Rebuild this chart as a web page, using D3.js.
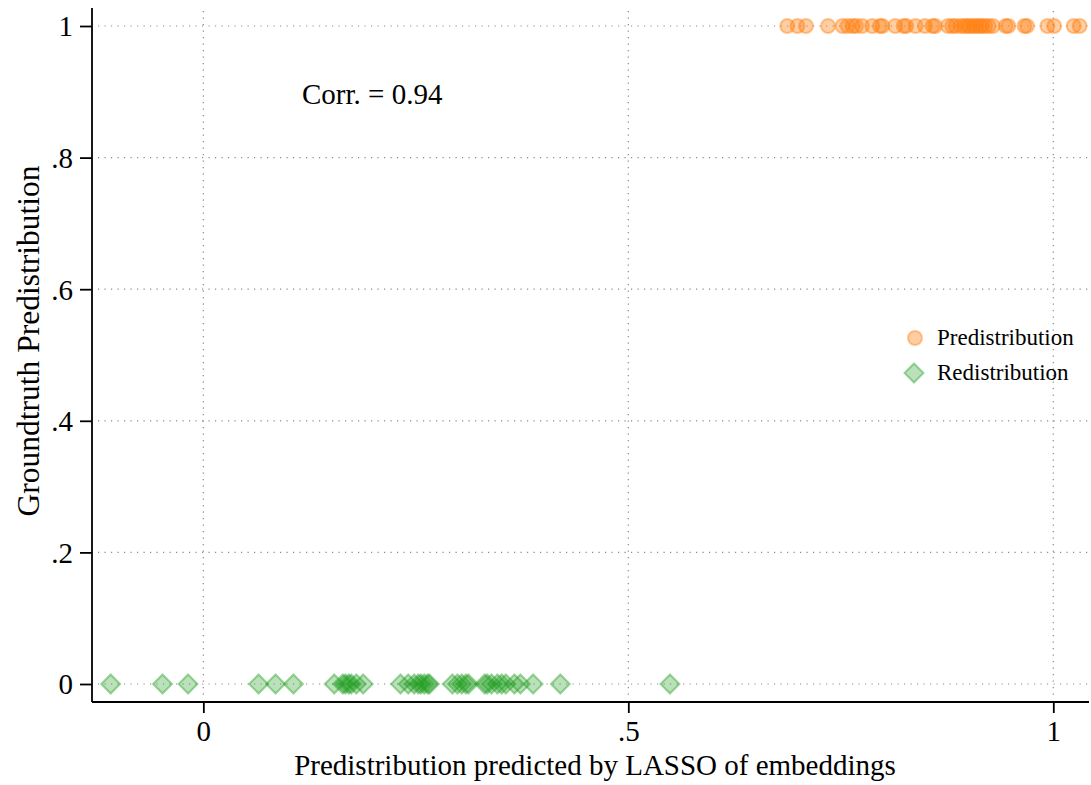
<!DOCTYPE html>
<html>
<head>
<meta charset="utf-8">
<script src="https://cdn.jsdelivr.net/npm/d3@7"></script>
<style>
  html, body { margin: 0; padding: 0; background: #fff; }
  svg text { font-family: "Liberation Serif", "Times New Roman", serif; fill: #000; }
</style>
</head>
<body>
<svg id="chart" width="1091" height="785"></svg>
<script>
// Predicted predistribution score (LASSO on embeddings) for speeches labelled Predistribution (truth = 1)
const predistributionX = [
  0.687, 0.699, 0.709, 0.735, 0.752, 0.758, 0.764, 0.768, 0.775, 0.787,
  0.796, 0.799, 0.814, 0.824, 0.827, 0.838, 0.849, 0.858, 0.861, 0.876,
  0.881, 0.885, 0.891, 0.895, 0.899, 0.902, 0.906, 0.909, 0.913, 0.916,
  0.920, 0.924, 0.929, 0.944, 0.947, 0.966, 0.969, 0.993, 1.001, 1.024, 1.031
];
// ... and for speeches labelled Redistribution (truth = 0)
const redistributionX = [
  -0.109, -0.048, -0.018, 0.065, 0.085, 0.106, 0.154, 0.164, 0.167, 0.171,
  0.174, 0.180, 0.188, 0.232, 0.241, 0.248, 0.253, 0.256, 0.260, 0.264,
  0.266, 0.293, 0.299, 0.304, 0.309, 0.312, 0.331, 0.334, 0.339, 0.346,
  0.351, 0.356, 0.366, 0.373, 0.388, 0.420, 0.549
];
const yTicks = [0, 0.2, 0.4, 0.6, 0.8, 1];
const yTickLabels = ["0", ".2", ".4", ".6", ".8", "1"];
const xTicks = [0, 0.5, 1];
const xTickLabels = ["0", ".5", "1"];
const seriesNames = ["Predistribution", "Redistribution"];
const corrLabel = "Corr. = 0.94";

const svg = d3.select("#chart");
const plotLeft = 92, plotRight = 1089, plotTop = 8, plotBottom = 702;

const x = d3.scaleLinear().domain([-0.131, 1.042]).range([plotLeft, plotRight]);
const y = d3.scaleLinear().domain([0, 1]).range([684, 26]);

const orange = "#ff7f0e";
const green = "#1a9a1a";

// dotted grid
const grid = svg.append("g");
grid.selectAll("line.h").data(yTicks).join("line")
  .attr("x1", plotLeft + 6).attr("x2", plotRight)
  .attr("y1", d => y(d)).attr("y2", d => y(d))
  .attr("stroke", "#8a8a8a").attr("stroke-width", 1.2)
  .attr("stroke-dasharray", "1.2,5.3");
grid.selectAll("line.v").data(xTicks).join("line")
  .attr("x1", d => x(d)).attr("x2", d => x(d))
  .attr("y1", plotTop + 3).attr("y2", plotBottom - 2)
  .attr("stroke", "#8a8a8a").attr("stroke-width", 1.2)
  .attr("stroke-dasharray", "1.2,5.3");

// axes
const yAxis = d3.axisLeft(y).tickValues(yTicks)
  .tickFormat((d, i) => yTickLabels[i]).tickSize(12).tickPadding(7);
const gy = svg.append("g").attr("transform", `translate(${plotLeft},0)`).call(yAxis);
gy.select(".domain").attr("d", `M0,${plotTop}V${plotBottom}`).attr("stroke", "#000").attr("stroke-width", 1.8);
gy.selectAll(".tick line").attr("stroke", "#000").attr("stroke-width", 1.8);
gy.selectAll(".tick text").style("font-size", "29px").attr("dy", "0.34em");

const xAxis = d3.axisBottom(x).tickValues(xTicks)
  .tickFormat((d, i) => xTickLabels[i]).tickSize(11).tickPadding(7);
const gx = svg.append("g").attr("transform", `translate(0,${plotBottom})`).call(xAxis);
gx.select(".domain").attr("d", `M${plotLeft},0H${plotRight}`).attr("stroke", "#000").attr("stroke-width", 1.8);
gx.selectAll(".tick line").attr("stroke", "#000").attr("stroke-width", 1.8);
gx.selectAll(".tick text").style("font-size", "29px");

// markers
const diamond = d3.symbol().type(d3.symbolSquare).size(180);
svg.append("g").selectAll("path").data(redistributionX).join("path")
  .attr("d", diamond)
  .attr("transform", d => `translate(${x(d)},${y(0)}) rotate(45)`)
  .attr("fill", green).attr("fill-opacity", 0.3)
  .attr("stroke", green).attr("stroke-opacity", 0.4).attr("stroke-width", 2);

svg.append("g").selectAll("circle").data(predistributionX).join("circle")
  .attr("cx", d => x(d)).attr("cy", y(1)).attr("r", 7)
  .attr("fill", orange).attr("fill-opacity", 0.38)
  .attr("stroke", orange).attr("stroke-opacity", 0.42).attr("stroke-width", 2);

// correlation annotation
svg.append("text").attr("x", 302).attr("y", 104)
  .style("font-size", "29px").text(corrLabel);

// legend
const lg = svg.append("g");
lg.append("circle").attr("cx", 915).attr("cy", 338).attr("r", 7)
  .attr("fill", orange).attr("fill-opacity", 0.38)
  .attr("stroke", orange).attr("stroke-opacity", 0.42).attr("stroke-width", 2);
lg.append("path").attr("d", diamond)
  .attr("transform", "translate(914,373) rotate(45)")
  .attr("fill", green).attr("fill-opacity", 0.3)
  .attr("stroke", green).attr("stroke-opacity", 0.4).attr("stroke-width", 2);
lg.selectAll("text").data(seriesNames).join("text")
  .attr("x", 937).attr("y", (d, i) => 345 + i * 35)
  .style("font-size", "23px").text(d => d);

// axis titles
svg.append("text").attr("x", 595).attr("y", 775)
  .attr("text-anchor", "middle").style("font-size", "29px")
  .text("Predistribution predicted by LASSO of embeddings");
svg.append("text").attr("transform", "translate(39,341) rotate(-90)")
  .attr("text-anchor", "middle").style("font-size", "31.5px")
  .text("Groundtruth Predistribution");
</script>
</body>
</html>
